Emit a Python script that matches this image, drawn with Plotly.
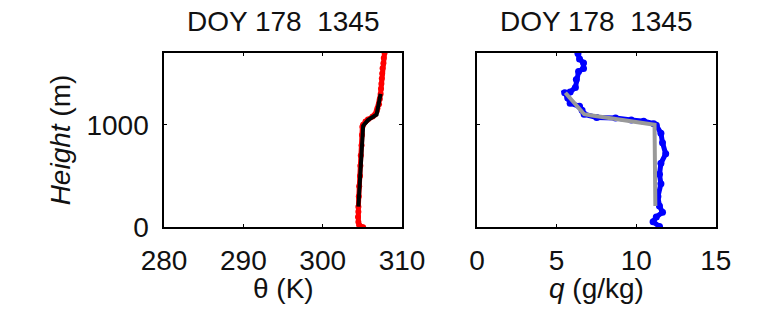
import plotly.graph_objects as go

# ---- data ----
theta_h = [0, 20, 50, 100, 150, 200, 300, 400, 500, 600, 700, 800, 900, 980, 1000,
           1030, 1050, 1080, 1100, 1130, 1160, 1200, 1250, 1300, 1350, 1400, 1450,
           1500, 1550, 1600, 1650, 1700]
theta_k = [305.1, 304.6, 304.5, 304.45, 304.5, 304.5, 304.55, 304.6, 304.7, 304.75,
           304.8, 304.9, 304.95, 305.0, 305.1, 305.4, 305.7, 306.3, 306.6, 306.8,
           306.9, 307.1, 307.2, 307.3, 307.35, 307.4, 307.45, 307.5, 307.55, 307.65,
           307.7, 307.8]

theta_fit_h = [200, 990, 1045, 1100, 1300]
theta_fit_k = [304.5, 305.1, 305.7, 306.8, 307.3]

q_h = [1694, 1642, 1602, 1549, 1518, 1441, 1364, 1318, 1312, 1260, 1210, 1179, 1140,
       1102, 1071, 1065, 1046, 1034, 1010, 994, 917, 824, 716, 623, 516, 423, 299,
       206, 145, 99, 53, 6]
q_gkg = [6.34, 6.44, 6.69, 6.69, 6.38, 6.24, 6.18, 5.85, 5.51, 5.7, 5.85, 6.44, 6.6,
         6.73, 7.52, 8.70, 9.69, 10.47, 11.1, 11.26, 11.55, 11.65, 11.85, 11.55, 11.46,
         11.55, 11.36, 11.46, 11.65, 11.26, 11.06, 11.46]

q_fit_h = [1312, 1102, 1093, 1009, 1000, 206]
q_fit_gkg = [5.55, 6.73, 7.12, 11.06, 11.15, 11.2]

title_text = "DOY 178\u00a0\u00a01345"
x_ticks_theta = [280, 290, 300, 310]
x_ticks_q = [0, 5, 10, 15]
y_ticks = [0, 1000]

FONT = "Liberation Sans, Arial, sans-serif"
FS = 28
TXT = "#111111"
fig = go.Figure()

fig.add_trace(go.Scatter(x=theta_k, y=theta_h, mode="lines+markers",
                         line=dict(color="red", width=5), marker=dict(color="red", size=6),
                         xaxis="x", yaxis="y", showlegend=False))
fig.add_trace(go.Scatter(x=theta_fit_k, y=theta_fit_h, mode="lines",
                         line=dict(color="black", width=4),
                         xaxis="x", yaxis="y", showlegend=False))
fig.add_trace(go.Scatter(x=q_gkg, y=q_h, mode="lines+markers",
                         line=dict(color="blue", width=5), marker=dict(color="blue", size=7),
                         xaxis="x2", yaxis="y2", showlegend=False))
fig.add_trace(go.Scatter(x=q_fit_gkg, y=q_fit_h, mode="lines",
                         line=dict(color="#999999", width=4),
                         xaxis="x2", yaxis="y2", showlegend=False))

ax_common = dict(showgrid=False, zeroline=False, showline=True, linecolor="black",
                 linewidth=1.5, mirror="ticks", ticks="inside", ticklen=3,
                 tickcolor="black", tickfont=dict(family=FONT, size=FS, color=TXT))

def ann(text, x, y, angle=0):
    return dict(text=text, x=x/773, y=1-y/324, xref="paper", yref="paper",
                xanchor="center", yanchor="middle", showarrow=False, textangle=angle,
                font=dict(family=FONT, size=FS, color=TXT))

fig.update_layout(
    width=773, height=324, margin=dict(l=0, r=0, t=0, b=0),
    paper_bgcolor="white", plot_bgcolor="white",
    xaxis=dict(domain=[150/773, 403/773], range=[280, 310], tickvals=x_ticks_theta,
               anchor="y", ticklabelstandoff=7, **ax_common),
    yaxis=dict(domain=[1-239/324, 1-55.7/324], range=[0, 1700], tickvals=y_ticks,
               anchor="x", ticklabelstandoff=8, **ax_common),
    xaxis2=dict(domain=[482.7/773, 736.7/773], range=[0, 15], tickvals=x_ticks_q,
                anchor="y2", ticklabelstandoff=7, **ax_common),
    yaxis2=dict(domain=[1-239/324, 1-55.7/324], range=[0, 1700], tickvals=y_ticks,
                showticklabels=False, anchor="x2", **ax_common),
    annotations=[
        ann(title_text, 276.5, 23),
        ann(title_text, 610, 23),
        ann("θ (K)", 277, 303),
        ann("<i>q</i> (g/kg)", 610, 303),
        ann("<i>Height</i> (m)", 40, 147, -90),
    ],
)

fig.write_html("out.html")
